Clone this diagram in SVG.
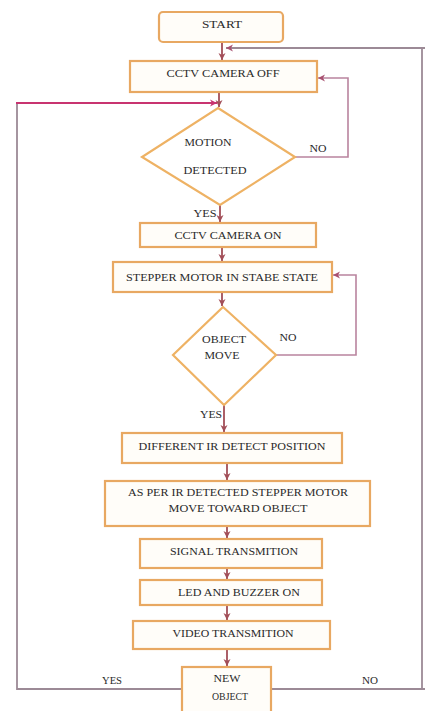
<svg xmlns="http://www.w3.org/2000/svg" width="425" height="711" viewBox="0 0 425 711">
<style>
.box{fill:#fffdf9;stroke:#e8a862;stroke-width:2.2}
.dia{fill:#ffffff;stroke:#eeb264;stroke-width:2.2}
.t{font-family:"Liberation Serif","Times New Roman",serif;font-size:9.5px;fill:#2a2a2a;text-anchor:middle}
.main{fill:none;stroke:#a24e58;stroke-width:1.8}
.loop{fill:none;stroke:#b9849e;stroke-width:1.6}
.mag{fill:none;stroke:#c83470;stroke-width:2}
.grey{fill:none;stroke:#9c8a96;stroke-width:1.8}
</style>
<defs>
<marker id="ah" markerWidth="8" markerHeight="8" refX="7" refY="4" orient="auto" markerUnits="userSpaceOnUse">
<path d="M0,0.5 L7,4 L0,7.5 L2,4 Z" fill="#a24e58"/>
</marker>
<marker id="ahl" markerWidth="8" markerHeight="8" refX="7" refY="4" orient="auto" markerUnits="userSpaceOnUse">
<path d="M0,0.5 L7,4 L0,7.5 L2,4 Z" fill="#a85070"/>
</marker>
<marker id="ahm" markerWidth="8" markerHeight="8" refX="7" refY="4" orient="auto" markerUnits="userSpaceOnUse">
<path d="M0,0.5 L7,4 L0,7.5 L2,4 Z" fill="#c83470"/>
</marker>
</defs>
<rect width="425" height="711" fill="#ffffff"/>

<g id="connectors">
<path class="main" d="M222,42 V60" marker-end="url(#ah)"/>
<path class="grey" d="M425,48 H226" marker-end="url(#ahl)"/>
<path class="grey" d="M422,48 V689"/>
<path class="main" d="M219,92 V107" marker-end="url(#ah)"/>
<path class="grey" d="M17,690 V103"/>
<path class="mag" d="M16,103 H217" marker-end="url(#ahm)"/>
<path class="loop" d="M295,157 H348 V78 H318" marker-end="url(#ahl)"/>
<path class="main" d="M220,205 V222" marker-end="url(#ah)"/>
<path class="main" d="M222,247 V261" marker-end="url(#ah)"/>
<path class="main" d="M222,292 V306" marker-end="url(#ah)"/>
<path class="loop" d="M276,355 H356 V275 H333" marker-end="url(#ahl)"/>
<path class="main" d="M224,405 V432" marker-end="url(#ah)"/>
<path class="main" d="M227,463 V480" marker-end="url(#ah)"/>
<path class="main" d="M227,526 V538" marker-end="url(#ah)"/>
<path class="main" d="M227,568 V579" marker-end="url(#ah)"/>
<path class="main" d="M227,605 V620" marker-end="url(#ah)"/>
<path class="main" d="M227,649 V666" marker-end="url(#ah)"/>
<path class="grey" d="M17,689 H182"/>
<path class="grey" d="M271,689 H425"/>
<text class="t" x="318" y="152" textLength="17" lengthAdjust="spacingAndGlyphs">NO</text>
<text class="t" x="205" y="217" textLength="23" lengthAdjust="spacingAndGlyphs">YES</text>
<text class="t" x="288" y="341" textLength="17" lengthAdjust="spacingAndGlyphs">NO</text>
<text class="t" x="211" y="418" textLength="22" lengthAdjust="spacingAndGlyphs">YES</text>
<text class="t" x="112" y="684" textLength="20" lengthAdjust="spacingAndGlyphs">YES</text>
<text class="t" x="370" y="684" textLength="16" lengthAdjust="spacingAndGlyphs">NO</text>
</g>

<g id="start">
<rect class="box" x="159" y="12" width="124" height="30" rx="4"/>
<text class="t" x="222" y="28" textLength="40" lengthAdjust="spacingAndGlyphs">START</text>
</g>
<g id="cctv-off">
<rect class="box" x="130" y="61" width="187" height="31"/>
<text class="t" x="223" y="77" textLength="113" lengthAdjust="spacingAndGlyphs">CCTV CAMERA OFF</text>
</g>
<g id="motion-detected">
<polygon class="dia" points="218,108 295,157 220,205 142,157"/>
<text class="t" x="208" y="146" textLength="47" lengthAdjust="spacingAndGlyphs">MOTION</text>
<text class="t" x="215" y="174" textLength="63" lengthAdjust="spacingAndGlyphs">DETECTED</text>
</g>
<g id="cctv-on">
<rect class="box" x="140" y="223" width="176" height="24"/>
<text class="t" x="228" y="239" textLength="107" lengthAdjust="spacingAndGlyphs">CCTV CAMERA ON</text>
</g>
<g id="stepper-stable">
<rect class="box" x="113" y="262" width="219" height="30"/>
<text class="t" x="222" y="281" textLength="192" lengthAdjust="spacingAndGlyphs">STEPPER MOTOR IN STABE STATE</text>
</g>
<g id="object-move">
<polygon class="dia" points="223,307 276,355 224,405 173,355"/>
<text class="t" x="224" y="343" textLength="44" lengthAdjust="spacingAndGlyphs">OBJECT</text>
<text class="t" x="222" y="359" textLength="35" lengthAdjust="spacingAndGlyphs">MOVE</text>
</g>
<g id="ir-position">
<rect class="box" x="122" y="433" width="220" height="30"/>
<text class="t" x="232" y="450" textLength="187" lengthAdjust="spacingAndGlyphs">DIFFERENT IR DETECT POSITION</text>
</g>
<g id="stepper-move">
<rect class="box" x="105" y="481" width="265" height="45"/>
<text class="t" x="238" y="496" textLength="220" lengthAdjust="spacingAndGlyphs">AS PER IR DETECTED STEPPER MOTOR</text>
<text class="t" x="238" y="512" textLength="139" lengthAdjust="spacingAndGlyphs">MOVE TOWARD OBJECT</text>
</g>
<g id="signal">
<rect class="box" x="140" y="539" width="182" height="29"/>
<text class="t" x="234" y="555" textLength="128" lengthAdjust="spacingAndGlyphs">SIGNAL TRANSMITION</text>
</g>
<g id="led-buzzer">
<rect class="box" x="140" y="580" width="182" height="25"/>
<text class="t" x="239" y="596" textLength="122" lengthAdjust="spacingAndGlyphs">LED AND BUZZER ON</text>
</g>
<g id="video">
<rect class="box" x="133" y="621" width="197" height="28"/>
<text class="t" x="233" y="637" textLength="121" lengthAdjust="spacingAndGlyphs">VIDEO TRANSMITION</text>
</g>
<g id="new-object">
<rect class="box" x="182" y="667" width="89" height="50"/>
<text class="t" x="227" y="682" textLength="27" lengthAdjust="spacingAndGlyphs">NEW</text>
<text class="t" x="230" y="700" textLength="36" lengthAdjust="spacingAndGlyphs">OBJECT</text>
</g>
</svg>
